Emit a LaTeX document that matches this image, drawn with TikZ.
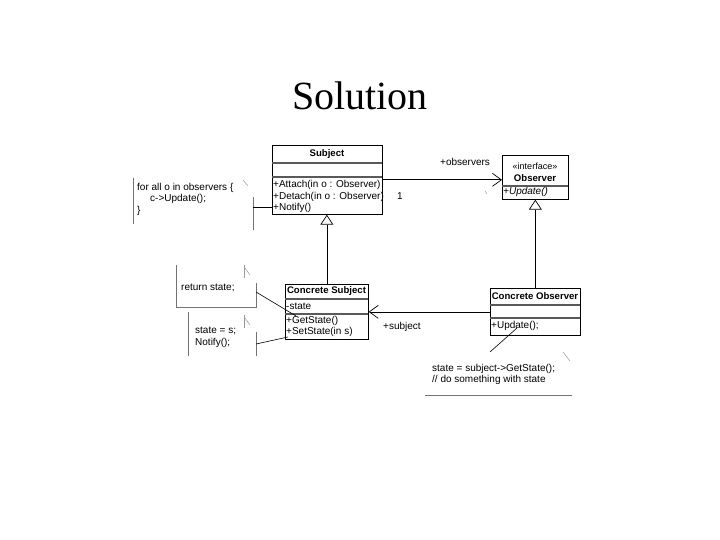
\documentclass[tikz,border=0pt]{standalone}
\usepackage{fontspec}
\setmainfont{Liberation Sans}
\newfontfamily\titlefont{Liberation Serif}
\usetikzlibrary{arrows.meta,calc}
\begin{document}
\begin{tikzpicture}[x=1pt,y=-1pt,
  cls/.style={draw, line width=0.7pt, anchor=north west, inner sep=0pt},
  sep/.style={draw=black!65, line width=1.1pt},
  txt/.style={font=\fontsize{10}{12}\selectfont, anchor=west, inner sep=0pt},
  btxt/.style={font=\fontsize{9.6}{12}\selectfont\bfseries, anchor=center, inner sep=0pt},
  notel/.style={draw=black!55, line width=0.6pt},
  tick/.style={draw=black!40, line width=0.5pt},
  assoc/.style={draw, line width=0.7pt, -{Straight Barb[length=9pt,width=13pt,line width=0.7pt]}},
  gen/.style={draw, line width=0.7pt, -{Triangle[open,length=10pt,width=13pt,line width=0.7pt]}},
  link/.style={draw, line width=0.6pt}]
\useasboundingbox (0,0) rectangle (720,540);
\fill[white] (0,0) rectangle (720,540);

% title
\node[font=\titlefont\fontsize{40}{44}\selectfont, inner sep=0pt] (title) at (360,96) {Solution};

% Subject class
\node[cls, minimum width=110pt, minimum height=69pt] (subject) at (272,145) {};
\draw[sep] (272,163) -- (382,163);
\draw[sep] (272,177) -- (382,177);
\node[btxt] (subjname) at (327,154) {Subject};
\node[txt] (attach) at (273,185) {+Attach(in o : Observer)};
\node[txt] (detach) at (273,197) {+Detach(in o : Observer)};
\node[txt] (notify) at (273,208) {+Notify()};

% Observer interface
\node[cls, minimum width=66pt, minimum height=44pt] (observer) at (502,155) {};
\draw[sep] (502,186) -- (568,186);
\node[font=\fontsize{9}{10}\selectfont, inner sep=0pt] (stereo) at (535,166) {«interface»};
\node[btxt] (obsname) at (535,178) {Observer};
\node[txt, font=\fontsize{10}{12}\selectfont\itshape] (upd) at (503,192) {+Update()};

% Concrete Subject
\node[cls, minimum width=83pt, minimum height=55pt] (concsubj) at (285,284) {};
\draw[sep] (285,299) -- (368,299);
\draw[sep] (285,314) -- (368,314);
\node[btxt] (csname) at (326.5,291) {Concrete Subject};
\node[txt] (state) at (286,306) {-state};
\node[txt] (getst) at (286,321) {+GetState()};
\node[txt] (setst) at (286,332) {+SetState(in s)};

% Concrete Observer
\node[cls, minimum width=90pt, minimum height=47pt] (concobs) at (490,288) {};
\draw[sep] (490,305) -- (580,305);
\draw[sep] (490,318) -- (580,318);
\node[btxt] (coname) at (535,296) {Concrete Observer};
\node[txt] (coupd) at (491,326) {+Update();};

% associations
\draw[assoc] (subject.east) -- (subject.east -| observer.west);
\node[txt] (lobs) at (440,162) {+observers};
\node[txt] (lone) at (397,196) {1};
\draw[tick] (485,191) -- (487,194);
\draw[assoc] (concobs.west) -- (concobs.west -| concsubj.east);
\node[txt] (lsub) at (383,327) {+subject};

% generalizations
\draw[gen] (concsubj.north) -- (concsubj.north |- subject.south);
\draw[gen] (concobs.north) -- (concobs.north |- observer.south);

% Note A
\node[txt, align=left, anchor=north west] (noteA) at (137,183) {for all o in observers \{\\[-0.5pt]\hspace*{13pt}c->Update();\\[-0.5pt]\}};
\draw[notel] (133,178) -- (133,224);
\draw[notel] (253,197) -- (253,230);
\draw[tick] (243,180) -- (248,186);
\coordinate (nA) at (253,207);
\draw[link] (nA) -- (nA -| subject.west);

% Note B
\node[txt] (noteB) at (181,288) {return state;};
\draw[notel] (176,265) -- (176,307) -- (256,307) -- (256,283);
\draw[tick] (244,265) -- (244,278);
\draw[tick] (245,268) -- (250,275);
\coordinate (nB) at (256,292);
\draw[link] (nB) -- (296,316);

% Note C
\node[txt, align=left, anchor=north west] (noteC) at (195,327) {state = s;\\[-0.5pt]Notify();};
\draw[notel] (188,312) -- (188,356);
\draw[notel] (256,332) -- (256,356);
\draw[tick] (244,315) -- (244,328);
\draw[tick] (245,318) -- (250,325);
\coordinate (nC) at (256,344);
\draw[link] (nC) -- (288,337);

% Note D
\node[txt, align=left, anchor=north west] (noteD) at (432,364) {state = subject->GetState();\\[-0.5pt]// do something with state};
\draw[notel] (425,395) -- (572,395);
\draw[tick] (563,352) -- (570,361);
\coordinate (nD) at (490,352);
\draw[link] (nD) -- (517,328);
\end{tikzpicture}
\end{document}
